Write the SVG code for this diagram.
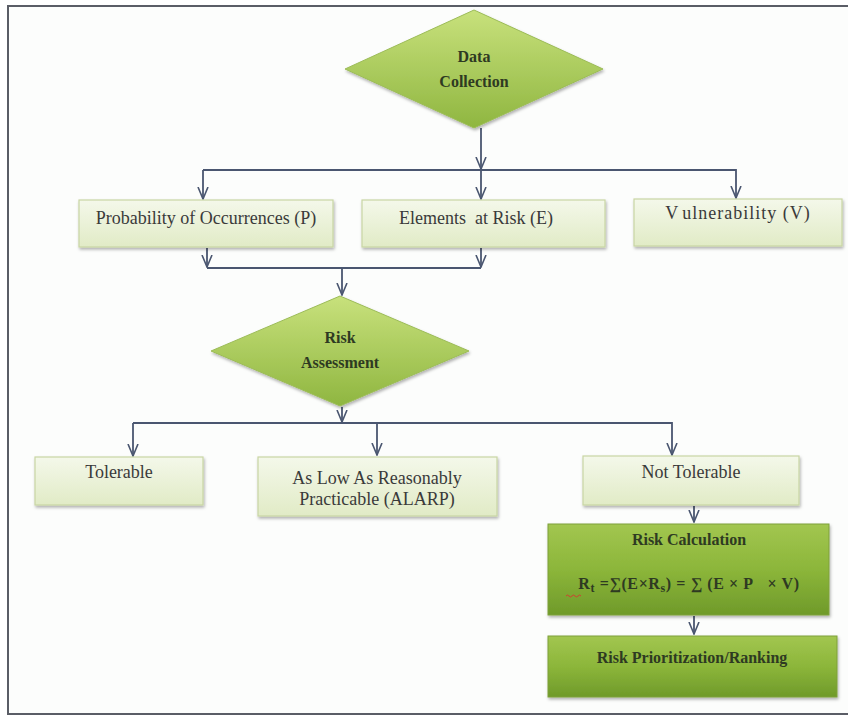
<svg xmlns="http://www.w3.org/2000/svg" width="848" height="716" viewBox="0 0 848 716">
<defs>
<linearGradient id="lightG" x1="0" y1="0" x2="0" y2="1">
<stop offset="0" stop-color="#f4f8ea"/>
<stop offset="1" stop-color="#e1ebc6"/>
</linearGradient>
<linearGradient id="diaG" x1="0" y1="0" x2="0" y2="1">
<stop offset="0" stop-color="#c8e17c"/>
<stop offset="1" stop-color="#8fb640"/>
</linearGradient>
<linearGradient id="darkG" x1="0" y1="0" x2="0" y2="1">
<stop offset="0" stop-color="#a2c650"/>
<stop offset="0.5" stop-color="#8cb63a"/>
<stop offset="1" stop-color="#6f9a2a"/>
</linearGradient>
<filter id="sh" x="-10%" y="-10%" width="125%" height="130%">
<feDropShadow dx="1" dy="2" stdDeviation="1.5" flood-color="#000" flood-opacity="0.3"/>
</filter>
<marker id="arr" viewBox="0 0 13 12" refX="12" refY="6" markerWidth="13" markerHeight="12" markerUnits="userSpaceOnUse" orient="auto">
<polyline points="0,1 12,6 0,11" fill="none" stroke="#4a5670" stroke-width="1.6"/>
</marker>
</defs>
<style>
.light{fill:url(#lightG);stroke:#c9d6a4;stroke-width:1.2;filter:url(#sh)}
.dia{fill:url(#diaG);stroke:#9cbc58;stroke-width:1;filter:url(#sh)}
.dark{fill:url(#darkG);stroke:#7ea03a;stroke-width:1;filter:url(#sh)}
.t{font-family:"Liberation Serif","Times New Roman",serif;font-size:18px;fill:#3a3a3a;text-anchor:middle}
.td{font-family:"Liberation Serif","Times New Roman",serif;font-size:16px;font-weight:bold;fill:#2e3a22;text-anchor:middle}
.c{fill:none;stroke:#4a5670;stroke-width:1.8}
.ca{fill:none;stroke:#4a5670;stroke-width:1.8;marker-end:url(#arr)}
</style>
<rect x="0" y="0" width="848" height="716" fill="#ffffff"/>
<rect x="8" y="6" width="850" height="708" fill="#fcfdfc" stroke="#5a5d66" stroke-width="2"/>

<g id="connectors">
<line class="ca" x1="481" y1="128" x2="481" y2="169"/>
<polyline class="ca" points="203,170 736,170 736,198"/>
<line class="ca" x1="203" y1="170" x2="203" y2="199"/>
<line class="ca" x1="481" y1="170" x2="481" y2="199"/>
<line class="ca" x1="207" y1="248" x2="207" y2="267"/>
<line class="ca" x1="481" y1="248" x2="481" y2="267"/>
<line class="c" x1="207" y1="268" x2="481" y2="268"/>
<line class="ca" x1="342" y1="268" x2="342" y2="295"/>
<line class="ca" x1="342" y1="407" x2="342" y2="422"/>
<polyline class="ca" points="133,423 672,423 672,455"/>
<line class="ca" x1="133" y1="423" x2="133" y2="456"/>
<line class="ca" x1="377" y1="423" x2="377" y2="455"/>
<line class="ca" x1="694" y1="506" x2="694" y2="522"/>
<line class="ca" x1="694" y1="616" x2="694" y2="634"/>
</g>

<g id="data-collection">
<polygon class="dia" points="474,10 603,69 474,128 345,69"/>
<text class="td" x="474" y="62">Data</text>
<text class="td" x="474" y="87">Collection</text>
</g>

<g id="probability">
<rect class="light" x="79" y="200" width="254" height="47"/>
<text class="t" x="206" y="224">Probability of Occurrences (P)</text>
</g>

<g id="elements">
<rect class="light" x="362" y="200" width="243" height="47"/>
<text class="t" x="476" y="224">Elements&#160; at Risk (E)</text>
</g>

<g id="vulnerability">
<rect class="light" x="634" y="199" width="208" height="47"/>
<text class="t" x="738" y="219" letter-spacing="1">V<tspan dx="4">ulnerability (V)</tspan></text>
</g>

<g id="risk-assessment">
<polygon class="dia" points="340,296 469,351 340,406 211,351"/>
<text class="td" x="340" y="343">Risk</text>
<text class="td" x="340" y="368">Assessment</text>
</g>

<g id="tolerable">
<rect class="light" x="35" y="457" width="168" height="48"/>
<text class="t" x="119" y="478" font-size="17">Tolerable</text>
</g>

<g id="alarp">
<rect class="light" x="258" y="457" width="239" height="59"/>
<text class="t" x="377" y="484">As Low As Reasonably</text>
<text class="t" x="377" y="505">Practicable (ALARP)</text>
</g>

<g id="not-tolerable">
<rect class="light" x="583" y="456" width="216" height="49"/>
<text class="t" x="691" y="478">Not Tolerable</text>
</g>

<g id="risk-calculation">
<rect class="dark" x="548" y="524" width="281" height="91"/>
<text class="td" x="689" y="545" font-size="18">Risk Calculation</text>
<text class="td" x="689" y="589" font-size="20" letter-spacing="0.6">R<tspan font-size="12" dy="3">t</tspan><tspan dy="-3"> =∑(E×R</tspan><tspan font-size="12" dy="3">s</tspan><tspan dy="-3">) = ∑ (E × P&#160;&#160; × V)</tspan></text>
<path d="M566,596 q1.5,-2 3,0 t3,0 t3,0 t3,0 t3,0" fill="none" stroke="#d04030" stroke-width="1"/>
</g>

<g id="risk-prioritization">
<rect class="dark" x="548" y="636" width="289" height="61"/>
<text class="td" x="692" y="663" font-size="18">Risk Prioritization/Ranking</text>
</g>
</svg>
